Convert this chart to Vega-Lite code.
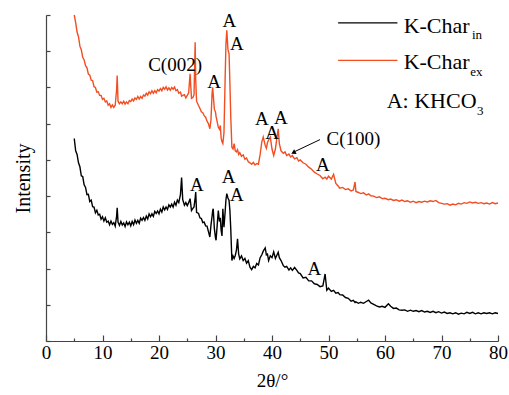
{
  "$schema": "https://vega.github.io/schema/vega-lite/v6.json",
  "width": 452,
  "height": 326,
  "autosize": {"type": "none"},
  "padding": {"left": 46, "top": 15, "right": 11, "bottom": 54},
  "config": {
    "view": {"stroke": null},
    "font": "Liberation Serif",
    "axis": {"domainColor": "#444", "domainWidth": 1.2, "tickColor": "#444", "tickWidth": 1.2, "grid": false, "labelFont": "Liberation Serif", "titleFont": "Liberation Serif", "titleFontWeight": "normal", "labelColor": "#000", "titleColor": "#000"}
  },
  "datasets": {
    "xrd": [
      {"t":5.0,"a":5.59,"b":9.0},{"t":5.25,"a":5.25,"b":8.79},{"t":5.5,"a":5.15,"b":8.53},{"t":5.75,"a":4.92,"b":8.40},
      {"t":6.0,"a":4.81,"b":8.14},{"t":6.25,"a":4.56,"b":8.04},{"t":6.5,"a":4.54,"b":7.83},{"t":6.75,"a":4.31,"b":7.76},
      {"t":7.0,"a":4.24,"b":7.60},{"t":7.25,"a":4.04,"b":7.54},{"t":7.5,"a":4.05,"b":7.37},{"t":7.75,"a":3.85,"b":7.34},
      {"t":8.0,"a":3.89,"b":7.20},{"t":8.25,"a":3.71,"b":7.19},{"t":8.5,"a":3.70,"b":7.02},{"t":8.75,"a":3.54,"b":7.00},
      {"t":9.0,"a":3.61,"b":6.87},{"t":9.25,"a":3.48,"b":6.88},{"t":9.5,"a":3.50,"b":6.78},{"t":9.75,"a":3.36,"b":6.78},
      {"t":10.0,"a":3.43,"b":6.67},{"t":10.25,"a":3.31,"b":6.70},{"t":10.5,"a":3.40,"b":6.60},{"t":10.75,"a":3.28,"b":6.63},
      {"t":11.0,"a":3.31,"b":6.51},{"t":11.25,"a":3.21,"b":6.55},{"t":11.5,"a":3.31,"b":6.45},{"t":11.75,"a":3.22,"b":6.52},
      {"t":12.0,"a":3.27,"b":6.45},{"t":12.25,"a":3.17,"b":6.51},{"t":12.5,"a":3.45,"b":6.95},{"t":12.6,"a":3.68,"b":7.33},
      {"t":12.75,"a":3.28,"b":6.62},{"t":13.0,"a":3.19,"b":6.55},{"t":13.25,"a":3.30,"b":6.60},{"t":13.5,"a":3.20,"b":6.55},
      {"t":13.75,"a":3.26,"b":6.62},{"t":14.0,"a":3.16,"b":6.54},{"t":14.25,"a":3.29,"b":6.60},{"t":14.5,"a":3.21,"b":6.55},
      {"t":14.75,"a":3.28,"b":6.64},{"t":15.0,"a":3.18,"b":6.61},{"t":15.25,"a":3.30,"b":6.68},{"t":15.5,"a":3.21,"b":6.63},
      {"t":15.75,"a":3.34,"b":6.71},{"t":16.0,"a":3.25,"b":6.67},{"t":16.25,"a":3.33,"b":6.75},{"t":16.5,"a":3.25,"b":6.68},
      {"t":16.75,"a":3.39,"b":6.75},{"t":17.0,"a":3.33,"b":6.70},{"t":17.25,"a":3.41,"b":6.79},{"t":17.5,"a":3.33,"b":6.76},
      {"t":17.75,"a":3.45,"b":6.84},{"t":18.0,"a":3.37,"b":6.79},{"t":18.25,"a":3.51,"b":6.88},{"t":18.5,"a":3.43,"b":6.83},
      {"t":18.75,"a":3.51,"b":6.91},{"t":19.0,"a":3.44,"b":6.84},{"t":19.25,"a":3.58,"b":6.91},{"t":19.5,"a":3.52,"b":6.85},
      {"t":19.75,"a":3.59,"b":6.94},{"t":20.0,"a":3.51,"b":6.90},{"t":20.25,"a":3.64,"b":6.97},{"t":20.5,"a":3.56,"b":6.91},
      {"t":20.75,"a":3.70,"b":7.00},{"t":21.0,"a":3.62,"b":6.95},{"t":21.25,"a":3.70,"b":7.02},{"t":21.5,"a":3.63,"b":6.93},
      {"t":21.75,"a":3.76,"b":6.99},{"t":22.0,"a":3.70,"b":6.92},{"t":22.25,"a":3.78,"b":7.00},{"t":22.5,"a":3.70,"b":6.95},
      {"t":22.75,"a":3.83,"b":7.01},{"t":23.0,"a":3.75,"b":6.91},{"t":23.25,"a":3.89,"b":6.94},{"t":23.5,"a":3.82,"b":6.84},
      {"t":23.8,"a":4.05,"b":6.87},{"t":24.0,"a":4.51,"b":6.76},{"t":24.2,"a":3.90,"b":6.78},{"t":24.5,"a":3.75,"b":6.80},
      {"t":24.75,"a":3.82,"b":6.71},{"t":25.0,"a":3.74,"b":6.78},{"t":25.25,"a":3.82,"b":6.85},{"t":25.5,"a":3.93,"b":7.38},
      {"t":25.75,"a":3.60,"b":6.70},{"t":26.0,"a":3.66,"b":6.72},{"t":26.2,"a":3.70,"b":6.80},{"t":26.4,"a":3.95,"b":8.25},
      {"t":26.5,"a":4.11,"b":7.20},{"t":26.65,"a":3.55,"b":6.62},{"t":27.0,"a":3.52,"b":6.50},{"t":27.25,"a":3.40,"b":6.42},
      {"t":27.5,"a":3.38,"b":6.33},{"t":27.75,"a":3.27,"b":6.30},{"t":28.0,"a":3.28,"b":6.22},{"t":28.25,"a":3.18,"b":6.18},
      {"t":28.5,"a":3.17,"b":6.07},{"t":28.75,"a":3.02,"b":6.00},{"t":29.0,"a":2.87,"b":5.86},{"t":29.2,"a":3.20,"b":6.10},
      {"t":29.4,"a":3.45,"b":6.85},{"t":29.5,"a":3.60,"b":7.00},{"t":29.6,"a":3.65,"b":6.80},{"t":29.8,"a":3.10,"b":6.40},
      {"t":30.0,"a":2.85,"b":6.32},{"t":30.1,"a":2.78,"b":6.20},{"t":30.3,"a":3.20,"b":6.05},{"t":30.5,"a":3.60,"b":5.90},
      {"t":30.7,"a":3.30,"b":5.85},{"t":30.85,"a":3.40,"b":5.95},{"t":31.0,"a":3.05,"b":5.60},{"t":31.15,"a":2.90,"b":5.50},
      {"t":31.3,"a":3.65,"b":5.45},{"t":31.5,"a":3.14,"b":5.75},{"t":31.7,"a":3.55,"b":7.20},{"t":31.85,"a":3.90,"b":8.20},
      {"t":32.0,"a":4.07,"b":8.58},{"t":32.2,"a":3.95,"b":8.05},{"t":32.4,"a":3.88,"b":7.93},{"t":32.55,"a":3.60,"b":7.10},
      {"t":32.7,"a":3.10,"b":6.20},{"t":32.9,"a":2.22,"b":5.35},{"t":33.1,"a":2.35,"b":5.30},{"t":33.3,"a":2.28,"b":5.45},
      {"t":33.5,"a":2.36,"b":5.25},{"t":33.7,"a":2.50,"b":5.22},{"t":33.9,"a":2.82,"b":5.28},{"t":34.1,"a":2.40,"b":5.15},
      {"t":34.3,"a":2.27,"b":5.20},{"t":34.6,"a":2.35,"b":5.10},{"t":34.9,"a":2.22,"b":5.14},{"t":35.2,"a":2.28,"b":5.02},
      {"t":35.5,"a":2.15,"b":5.05},{"t":35.8,"a":2.22,"b":4.95},{"t":36.1,"a":2.04,"b":4.92},{"t":36.4,"a":1.97,"b":4.88},
      {"t":36.7,"a":2.06,"b":4.93},{"t":37.0,"a":2.02,"b":4.86},{"t":37.3,"a":2.14,"b":4.90},{"t":37.6,"a":2.10,"b":4.88},
      {"t":37.9,"a":2.30,"b":5.15},{"t":38.2,"a":2.38,"b":5.50},{"t":38.45,"a":2.48,"b":5.63},{"t":38.8,"a":2.57,"b":5.40},
      {"t":39.0,"a":2.38,"b":5.32},{"t":39.2,"a":2.40,"b":5.48},{"t":39.4,"a":2.22,"b":5.55},{"t":39.7,"a":2.35,"b":5.63},
      {"t":40.0,"a":2.30,"b":5.30},{"t":40.3,"a":2.46,"b":5.12},{"t":40.6,"a":2.28,"b":5.30},{"t":40.9,"a":2.38,"b":5.65},
      {"t":41.1,"a":2.45,"b":5.86},{"t":41.3,"a":2.30,"b":5.45},{"t":41.6,"a":2.22,"b":5.25},{"t":42.0,"a":2.08,"b":5.18},
      {"t":42.3,"a":2.04,"b":5.22},{"t":42.6,"a":2.06,"b":5.12},{"t":43.0,"a":1.96,"b":5.16},{"t":43.3,"a":2.02,"b":5.08},
      {"t":43.6,"a":1.95,"b":5.12},{"t":44.0,"a":2.03,"b":5.03},{"t":44.4,"a":1.95,"b":5.06},{"t":44.7,"a":1.88,"b":4.97},
      {"t":45.0,"a":1.86,"b":5.00},{"t":45.5,"a":1.74,"b":4.92},{"t":46.0,"a":1.76,"b":4.88},{"t":46.5,"a":1.66,"b":4.80},
      {"t":47.0,"a":1.66,"b":4.74},{"t":47.5,"a":1.58,"b":4.66},{"t":48.0,"a":1.56,"b":4.61},{"t":48.5,"a":1.50,"b":4.57},
      {"t":49.0,"a":1.52,"b":4.48},{"t":49.4,"a":1.85,"b":4.52},{"t":49.7,"a":1.40,"b":4.47},{"t":50.0,"a":1.46,"b":4.55},
      {"t":50.5,"a":1.37,"b":4.47},{"t":50.9,"a":1.40,"b":4.60},{"t":51.3,"a":1.32,"b":4.35},{"t":51.7,"a":1.34,"b":4.28},
      {"t":52.0,"a":1.28,"b":4.22},{"t":52.5,"a":1.27,"b":4.24},{"t":53.0,"a":1.20,"b":4.18},{"t":53.5,"a":1.18,"b":4.20},
      {"t":54.0,"a":1.10,"b":4.14},{"t":54.4,"a":1.12,"b":4.17},{"t":54.7,"a":1.06,"b":4.39},{"t":54.85,"a":1.08,"b":4.13},
      {"t":55.3,"a":1.04,"b":4.10},{"t":55.7,"a":1.07,"b":4.07},{"t":56.2,"a":1.04,"b":4.09},{"t":56.7,"a":1.09,"b":4.03},
      {"t":57.1,"a":1.13,"b":4.06},{"t":57.5,"a":1.05,"b":4.01},{"t":58.0,"a":1.01,"b":4.00},{"t":58.5,"a":0.97,"b":3.96},
      {"t":59.0,"a":0.94,"b":3.98},{"t":59.5,"a":0.96,"b":3.93},{"t":60.0,"a":0.93,"b":3.94},{"t":60.6,"a":1.03,"b":3.90},
      {"t":61.0,"a":0.96,"b":3.92},{"t":61.5,"a":0.90,"b":3.88},{"t":62.0,"a":0.91,"b":3.90},{"t":62.5,"a":0.86,"b":3.86},
      {"t":63.0,"a":0.85,"b":3.89},{"t":63.5,"a":0.86,"b":3.85},{"t":64.0,"a":0.82,"b":3.87},{"t":64.5,"a":0.85,"b":3.83},
      {"t":65.0,"a":0.82,"b":3.86},{"t":65.5,"a":0.84,"b":3.82},{"t":66.0,"a":0.81,"b":3.85},{"t":66.5,"a":0.84,"b":3.83},
      {"t":67.0,"a":0.80,"b":3.86},{"t":67.5,"a":0.82,"b":3.84},{"t":68.0,"a":0.79,"b":3.87},{"t":68.5,"a":0.82,"b":3.85},
      {"t":69.0,"a":0.78,"b":3.88},{"t":69.5,"a":0.81,"b":3.82},{"t":70.0,"a":0.77,"b":3.80},{"t":70.5,"a":0.80,"b":3.78},
      {"t":71.0,"a":0.76,"b":3.79},{"t":71.5,"a":0.78,"b":3.75},{"t":72.0,"a":0.75,"b":3.78},{"t":72.5,"a":0.78,"b":3.76},
      {"t":73.0,"a":0.74,"b":3.80},{"t":73.5,"a":0.77,"b":3.78},{"t":74.0,"a":0.75,"b":3.82},{"t":74.5,"a":0.79,"b":3.80},
      {"t":75.0,"a":0.76,"b":3.84},{"t":75.5,"a":0.79,"b":3.81},{"t":76.0,"a":0.75,"b":3.83},{"t":76.5,"a":0.78,"b":3.80},
      {"t":77.0,"a":0.75,"b":3.82},{"t":77.5,"a":0.78,"b":3.79},{"t":78.0,"a":0.76,"b":3.81},{"t":78.5,"a":0.78,"b":3.78},
      {"t":79.0,"a":0.75,"b":3.82},{"t":79.5,"a":0.78,"b":3.79},{"t":80.0,"a":0.76,"b":3.81}
    ],
    "ann": [
      {"t":22.85,"v":7.63,"label":"C(002)"},
      {"t":29.75,"v":7.15,"label":"A"},
      {"t":32.47,"v":8.83,"label":"A"},
      {"t":33.77,"v":8.19,"label":"A"},
      {"t":38.2,"v":6.14,"label":"A"},
      {"t":40.0,"v":5.74,"label":"A"},
      {"t":41.56,"v":6.17,"label":"A"},
      {"t":49.0,"v":4.85,"label":"A"},
      {"t":54.4,"v":5.57,"label":"C(100)"},
      {"t":26.7,"v":4.32,"label":"A"},
      {"t":32.3,"v":4.52,"label":"A"},
      {"t":33.8,"v":4.02,"label":"A"},
      {"t":47.5,"v":1.99,"label":"A"}
    ],
    "arrow": [{"t":48.5,"v":5.56,"t2":43.9,"v2":5.22}],
    "head": [{"t":43.9,"v":5.21}],
    "leg": [
      {"t":51.7,"t2":62.2,"v":8.78,"s":"a"},
      {"t":51.7,"t2":62.2,"v":7.75,"s":"b"}
    ],
    "legtext": [
      {"t":63.3,"v":8.51,"label":"K-Char"},
      {"t":63.3,"v":7.52,"label":"K-Char"}
    ],
    "legsub": [
      {"t":75.4,"v":8.35,"label":"in"},
      {"t":75.1,"v":7.31,"label":"ex"},
      {"t":76.3,"v":6.23,"label":"3"}
    ],
    "keytext": [{"t":60.3,"v":6.44,"label":"A: KHCO"}]
  },
  "layer": [
    {
      "data": {"name": "xrd"},
      "transform": [{"fold": ["a", "b"], "as": ["s", "v"]}],
      "mark": {"type": "line", "strokeWidth": 1.4, "interpolate": "linear"},
      "encoding": {
        "x": {
          "field": "t", "type": "quantitative",
          "scale": {"domain": [0, 80], "nice": false},
          "axis": {
            "title": "2θ/°", "titleFontSize": 19, "titlePadding": 6,
            "values": [0,5,10,15,20,25,30,35,40,45,50,55,60,65,70,75,80], "tickCount": 40,
            "labelExpr": "datum.value % 10 === 0 ? datum.label : ''",
            "labelFontSize": 19, "labelPadding": 8, "labelFlush": false, "labelOverlap": false,
            "tickSize": {"condition": {"test": "datum.value % 10 === 0", "value": -6}, "value": -3}
          }
        },
        "y": {
          "field": "v", "type": "quantitative",
          "scale": {"domain": [0, 9], "nice": false},
          "axis": {
            "title": "Intensity", "titleFontSize": 20, "titlePadding": 12,
            "values": [0,1,2,3,4,5,6,7,8,9], "tickCount": 20, "labels": false, "labelOverlap": false, "tickSize": -4
          }
        },
        "color": {"field": "s", "type": "nominal", "scale": {"domain": ["a", "b"], "range": ["#000000", "#f24e22"]}, "legend": null}
      }
    },
    {
      "data": {"name": "leg"},
      "mark": {"type": "rule", "strokeWidth": 1.2},
      "encoding": {
        "x": {"field": "t", "type": "quantitative"},
        "x2": {"field": "t2"},
        "y": {"field": "v", "type": "quantitative"},
        "color": {"field": "s", "type": "nominal", "scale": {"domain": ["a", "b"], "range": ["#000000", "#f24e22"]}, "legend": null}
      }
    },
    {
      "data": {"name": "ann"},
      "mark": {"type": "text", "font": "Liberation Serif", "fontSize": 19, "align": "center", "baseline": "middle", "color": "#000"},
      "encoding": {
        "x": {"field": "t", "type": "quantitative"},
        "y": {"field": "v", "type": "quantitative"},
        "text": {"field": "label"}
      }
    },
    {
      "data": {"name": "arrow"},
      "mark": {"type": "rule", "strokeWidth": 1, "color": "#000"},
      "encoding": {
        "x": {"field": "t", "type": "quantitative"},
        "y": {"field": "v", "type": "quantitative"},
        "x2": {"field": "t2"},
        "y2": {"field": "v2"}
      }
    },
    {
      "data": {"name": "head"},
      "mark": {"type": "point", "shape": "triangle", "filled": true, "size": 28, "angle": 242, "color": "#000", "opacity": 1},
      "encoding": {
        "x": {"field": "t", "type": "quantitative"},
        "y": {"field": "v", "type": "quantitative"}
      }
    },
    {
      "data": {"name": "legtext"},
      "mark": {"type": "text", "font": "Liberation Serif", "fontSize": 22, "align": "left", "baseline": "alphabetic", "color": "#000"},
      "encoding": {
        "x": {"field": "t", "type": "quantitative"},
        "y": {"field": "v", "type": "quantitative"},
        "text": {"field": "label"}
      }
    },
    {
      "data": {"name": "keytext"},
      "mark": {"type": "text", "font": "Liberation Serif", "fontSize": 22, "align": "left", "baseline": "alphabetic", "color": "#000"},
      "encoding": {
        "x": {"field": "t", "type": "quantitative"},
        "y": {"field": "v", "type": "quantitative"},
        "text": {"field": "label"}
      }
    },
    {
      "data": {"name": "legsub"},
      "mark": {"type": "text", "font": "Liberation Serif", "fontSize": 13, "align": "left", "baseline": "alphabetic", "color": "#000"},
      "encoding": {
        "x": {"field": "t", "type": "quantitative"},
        "y": {"field": "v", "type": "quantitative"},
        "text": {"field": "label"}
      }
    }
  ]
}
